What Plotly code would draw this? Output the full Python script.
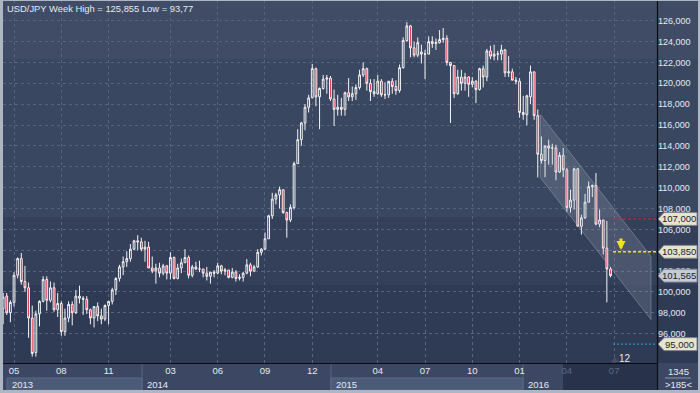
import pandas as pd
import plotly.graph_objects as go

# ---------------- data (weekly USD/JPY) ----------------
first_week = "2013-04-15"
open_ = [98.4, 99.6, 98.0, 99.0, 101.6, 103.2, 101.0, 100.4, 97.5, 94.2, 97.9, 99.1, 101.2,
         99.2, 100.4, 98.3, 98.9, 96.2, 97.5, 98.8, 98.0, 99.6, 99.4, 99.3, 98.3, 97.5, 98.6,
         97.7, 97.4, 98.7, 99.1, 100.2, 101.3, 102.4, 102.9, 103.2, 104.1, 104.9,
         104.8, 104.1, 104.3, 102.3, 102.0, 102.3, 101.8, 102.5, 101.8, 103.3, 101.3, 102.3,
         102.8, 103.3, 101.6, 102.4, 102.2, 102.2, 101.8, 101.5, 101.9, 101.8, 102.5, 102.0,
         102.1, 101.4, 101.9, 101.3, 101.4, 101.8, 102.6, 102.0, 102.4, 103.8, 104.1, 105.1,
         107.3, 108.9, 109.3, 109.8, 107.6, 106.9, 108.1, 112.3, 114.6, 116.2, 117.7, 118.6,
         121.4, 118.7, 119.5, 120.4,
         120.5, 118.5, 117.5, 117.7, 117.5, 119.1, 118.7, 119.0, 119.6, 120.8, 121.4, 120.0,
         119.2, 119.0, 120.2, 118.9, 118.9, 120.2, 119.7, 119.3, 121.5, 124.1, 125.5, 123.4,
         122.7, 123.0, 122.8, 122.8, 124.0, 123.8, 123.9, 124.2, 124.3, 122.0, 121.7, 119.0,
         120.6, 120.0, 120.6, 119.9, 120.2, 119.4, 121.4, 120.6, 123.1, 122.6, 122.8, 122.8,
         123.2, 121.0, 121.1, 120.3,
         120.2, 117.2, 117.0, 118.7, 121.1, 116.9, 113.2, 112.6, 114.0, 113.8, 113.8, 111.5,
         113.1, 111.7, 108.1, 108.8, 111.8, 106.3, 107.1, 108.6, 110.1, 110.2, 106.5, 106.9,
         104.2, 102.2]
high = [99.9, 99.9, 99.2, 101.9, 103.3, 103.74, 102.5, 100.9, 98.7, 98.2, 99.2, 101.5, 101.5,
        101.0, 100.9, 99.9, 99.1, 98.4, 99.1, 99.1, 100.2, 100.6, 99.6, 99.6, 98.4, 98.6, 99.0,
        98.4, 98.8, 99.1, 100.4, 101.4, 102.6, 103.4, 103.9, 104.6, 105.0, 105.44,
        105.2, 104.9, 104.8, 103.4, 102.7, 102.8, 102.7, 102.6, 103.8, 103.4, 102.7, 103.2,
        104.1, 103.5, 102.6, 102.9, 103.0, 102.2, 102.4, 101.9, 102.1, 102.8, 102.6, 102.3,
        102.1, 102.3, 102.1, 101.7, 101.9, 103.15, 102.8, 102.6, 104.1, 104.2, 105.7, 107.4,
        109.5, 109.5, 110.1, 109.8, 107.7, 108.4, 112.5, 115.6, 116.3, 118.0, 118.9, 121.85,
        121.5, 119.6, 120.8, 120.8,
        120.7, 119.4, 118.9, 118.6, 119.2, 120.5, 119.7, 119.9, 121.3, 122.0, 121.5, 120.4,
        120.4, 120.8, 120.4, 120.1, 120.0, 120.5, 120.3, 121.8, 124.4, 125.86, 125.6, 124.0,
        124.4, 123.7, 123.2, 124.5, 124.5, 124.3, 125.1, 125.3, 124.6, 122.0, 121.7, 121.3,
        121.3, 121.0, 120.7, 120.6, 120.3, 121.5, 121.7, 123.3, 123.6, 123.7, 123.1, 123.7,
        123.3, 122.6, 121.4, 120.6,
        120.5, 118.8, 118.9, 121.7, 121.1, 117.5, 114.9, 114.0, 114.6, 114.2, 114.1, 113.4,
        113.8, 111.9, 109.8, 111.9, 111.9, 107.4, 109.4, 110.6, 110.3, 111.4, 107.9, 106.9,
        106.8, 102.4]
low = [96.9, 97.8, 97.1, 98.6, 101.3, 100.7, 100.0, 95.6, 93.8, 93.8, 96.7, 99.0, 98.2,
       99.0, 98.1, 97.6, 95.8, 95.8, 97.1, 96.8, 97.9, 98.9, 97.8, 97.9, 96.9, 96.6, 97.2,
       96.9, 97.2, 96.9, 98.8, 99.7, 101.0, 101.6, 102.4, 102.9, 104.0, 104.0,
       103.9, 102.9, 102.3, 101.8, 100.8, 101.4, 101.6, 101.2, 101.2, 101.2, 101.2, 101.8,
       102.8, 101.3, 101.4, 102.1, 101.9, 101.4, 101.1, 100.8, 101.4, 101.7, 101.7, 101.6,
       101.3, 101.3, 101.0, 101.1, 101.0, 101.7, 101.5, 101.9, 102.3, 103.5, 104.0, 105.1,
       107.0, 108.4, 108.0, 107.5, 105.2, 106.7, 107.9, 112.3, 114.0, 115.5, 117.2, 118.6,
       117.8, 115.6, 119.4, 119.0,
       118.3, 115.9, 116.9, 116.9, 116.9, 118.3, 118.3, 118.4, 119.4, 120.6, 119.3, 118.3,
       118.7, 118.9, 118.7, 118.5, 118.6, 119.0, 118.9, 119.1, 121.4, 124.0, 122.5, 122.5,
       122.5, 121.9, 120.4, 122.8, 123.4, 123.2, 123.8, 123.9, 121.7, 116.2, 118.6, 118.9,
       119.3, 119.3, 118.7, 119.6, 118.1, 119.3, 119.6, 120.2, 122.3, 122.2, 122.2, 122.2,
       120.6, 120.6, 120.3, 119.9,
       116.7, 116.5, 115.97, 118.0, 116.5, 110.98, 112.3, 111.0, 112.2, 112.2, 110.7, 111.4,
       111.0, 107.7, 107.6, 107.9, 106.3, 105.5, 107.0, 108.6, 109.1, 106.4, 106.2, 103.6,
       99.0, 101.4]
close = [99.5, 98.0, 99.0, 101.6, 103.2, 101.0, 100.4, 97.5, 94.1, 97.9, 99.1, 101.2, 99.2,
         100.4, 98.3, 98.9, 96.2, 97.5, 98.8, 98.0, 99.6, 99.4, 99.3, 98.3, 97.5, 98.6, 97.7,
         97.4, 98.7, 99.1, 100.2, 101.3, 102.4, 102.9, 103.2, 104.1, 104.9, 104.8,
         104.1, 104.3, 102.3, 102.0, 102.3, 101.8, 102.5, 101.8, 103.3, 101.3, 102.3, 102.8,
         103.3, 101.6, 102.4, 102.2, 102.2, 101.8, 101.5, 101.9, 101.8, 102.5, 102.0, 102.1,
         101.4, 101.9, 101.3, 101.4, 101.8, 102.6, 102.0, 102.4, 103.8, 104.1, 105.1, 107.3,
         108.9, 109.3, 109.8, 107.6, 106.9, 108.1, 112.3, 114.6, 116.2, 117.7, 118.6, 121.4,
         118.7, 119.5, 120.4, 120.5,
         118.5, 117.5, 117.7, 117.5, 119.1, 118.7, 119.0, 119.6, 120.8, 121.4, 120.0, 119.2,
         119.0, 120.2, 118.9, 118.9, 120.2, 119.7, 119.3, 121.5, 124.1, 125.5, 123.4, 122.7,
         123.9, 122.8, 122.8, 124.0, 123.8, 123.9, 124.2, 124.3, 122.0, 121.7, 119.0, 120.6,
         120.0, 120.6, 119.9, 120.2, 119.4, 121.4, 120.6, 123.1, 122.6, 122.8, 122.8, 123.2,
         121.0, 121.1, 120.3, 120.2,
         117.2, 117.0, 118.8, 121.1, 116.9, 113.2, 112.6, 114.0, 113.8, 113.8, 111.5, 113.1,
         111.7, 108.1, 108.8, 111.8, 106.3, 107.1, 108.6, 110.1, 110.2, 106.5, 106.9, 104.2,
         102.2, 101.565]
dates = pd.date_range(first_week, periods=len(open_), freq="7D")

month_ticks = ["2013-05-06", "2013-08-05", "2013-11-04", "2014-03-03", "2014-06-02",
               "2014-09-01", "2014-12-01", "2015-04-06", "2015-07-06", "2015-10-05",
               "2016-01-04", "2016-04-04", "2016-07-04"]
month_labels = ["05", "08", "11", "03", "06", "09", "12", "04", "07", "10", "01", "04", "07"]
price_ticks = list(range(96, 127, 2))
hidden_price_ticks = [104]          # label covered by the 103,850 marker in the source
price_labels = ["" if v in hidden_price_ticks else f"{v},000" for v in price_ticks]
year_labels = ["2013", "2014", "2015", "2016"]

# drawn trend channel
channel_dates = ["2016-02-13", "2016-09-13"]
channel_upper = [117.0, 103.4]
channel_lower = [110.95, 97.35]

# marked levels
level_red = 107.0
level_yellow = 103.85
last_price = 101.565
level_blue = 95.0
level_labels = ["107,000", "103,850", "101,565", "95,000"]

title_text = "USD/JPY Week High = 125,855 Low = 93,77"
footer_top, footer_bottom = "1345", ">185<"
bar_count_label = "12"

# ---------------- geometry helpers ----------------
W, H = 700, 393
ML, MR, MT, MB = 3, 43, 0, 30
PW, PH = W - ML - MR, H - MT - MB
base = pd.Timestamp("2013-04-29")
step_px = 3.637
x0_px = 10.4


def px(x):
    return (x - ML) / PW


def py(y):
    return (MT + PH - y) / PH


def wdate(w):
    return base + pd.Timedelta(days=7 * w)


x_range = [wdate((ML - x0_px) / step_px), wdate((ML + PW - x0_px) / step_px)]
y_range = [126 - (PH - 20.7) / 10.433, 126 + 20.7 / 10.433]

FONT = "Liberation Sans, Arial, sans-serif"
TXT = "#e4eaf3"

fig = go.Figure()

# channel
fig.add_trace(go.Scatter(
    x=[channel_dates[0], channel_dates[1], channel_dates[1], channel_dates[0], channel_dates[0]],
    y=[channel_upper[0], channel_upper[1], channel_lower[1], channel_lower[0], channel_upper[0]],
    mode="lines", fill="toself", fillcolor="rgba(185,192,205,0.18)",
    line=dict(color="rgba(190,196,210,0.35)", width=1), hoverinfo="skip", showlegend=False))

fig.add_trace(go.Candlestick(
    x=dates, open=open_, high=high, low=low, close=close,
    increasing=dict(line=dict(color="#f4f4f4", width=1), fillcolor="rgba(0,0,0,0)"),
    decreasing=dict(line=dict(color="#f4f4f4", width=1), fillcolor="#e3122c"),
    whiskerwidth=0, hoverinfo="skip", showlegend=False))

shapes = []
# background bands (full width)
bands = [(0, 59, "#404c65"), (59, 217, "#3a4761"), (217, 285, "#343f59"), (285, 363, "#2f3b55")]
for y0, y1, c in bands:
    shapes.append(dict(type="rect", xref="paper", yref="paper", x0=px(0), x1=px(W),
                       y0=py(y1), y1=py(y0), fillcolor=c, line_width=0, layer="below"))
# bottom axis panel
shapes.append(dict(type="rect", xref="paper", yref="paper", x0=px(0), x1=px(W), y0=py(H), y1=py(363),
                   fillcolor="#3c4863", line_width=0, layer="below"))
for xa, xb, c in [(7, 142, "#4b5a77"), (331, 523, "#4b5a77")]:
    shapes.append(dict(type="rect", xref="paper", yref="paper", x0=px(xa), x1=px(xb), y0=py(390), y1=py(378),
                       fillcolor=c, line=dict(color="#5a6986", width=1), layer="below"))
shapes.append(dict(type="rect", xref="paper", yref="paper", x0=px(563), x1=px(657), y0=py(390), y1=py(363),
                   fillcolor="#28334b", line_width=0, layer="below"))
for xv in [142, 331, 523]:
    shapes.append(dict(type="line", xref="paper", yref="paper", x0=px(xv), x1=px(xv), y0=py(390), y1=py(363),
                       line=dict(color="#56657f", width=1), layer="below"))
# bottom right box separator
shapes.append(dict(type="line", xref="paper", yref="paper", x0=px(665), x1=px(691), y0=py(378), y1=py(378),
                   line=dict(color="#8a96aa", width=1), layer="above"))

# level lines
for lv, col, dash, wd in [(level_red, "#d42a2a", "3px,2px", 1), (level_yellow, "#f2e21c", "3px,2px", 1.6),
                          (level_blue, "#2aa6d6", "2px,2px", 1)]:
    shapes.append(dict(type="line", xref="paper", yref="y", x0=px(613), x1=1, y0=lv, y1=lv,
                       line=dict(color=col, width=wd, dash=dash), layer="above"))

# label boxes on right axis
half = 0.62
for lv, fc in [(level_red, "#e7e4cc"), (level_yellow, "#e7e4cc"), (last_price, "#c6cbd4"), (level_blue, "#e7e4cc")]:
    path = (f"M {px(658)},{lv} L {px(664)},{lv + half} L {px(697)},{lv + half} "
            f"L {px(697)},{lv - half} L {px(664)},{lv - half} Z")
    shapes.append(dict(type="path", xref="paper", yref="y", path=path, fillcolor=fc,
                       line=dict(color="#7c8496", width=1), layer="above"))

# small triangle marker near bar counter
shapes.append(dict(type="path", xref="paper", yref="paper",
                   path=f"M {px(611)},{py(362)} L {px(615)},{py(357)} L {px(619)},{py(362)} Z",
                   fillcolor="#4a4f63", line_width=0, layer="above"))

# frame lines
shapes.append(dict(type="line", xref="paper", yref="paper", x0=px(3), x1=px(657), y0=py(363.5), y1=py(363.5),
                   line=dict(color="#0a0d14", width=1.2), layer="above"))
shapes.append(dict(type="line", xref="paper", yref="paper", x0=px(657.5), x1=px(657.5), y0=py(390), y1=py(0),
                   line=dict(color="#0a0d14", width=1.2), layer="above"))
# outer light border
for xa, xb, ya, yb in [(0, 3, 0, H), (0, W, 390, H), (698, W, 0, H), (0, W, 0, 1)]:
    shapes.append(dict(type="rect", xref="paper", yref="paper", x0=px(xa), x1=px(xb), y0=py(yb), y1=py(ya),
                       fillcolor="#aeb6c4", line_width=0, layer="above"))

annotations = []
annotations.append(dict(text=title_text, xref="paper", yref="paper", x=px(5), y=py(8),
                        xanchor="left", yanchor="middle", showarrow=False,
                        font=dict(family=FONT, size=9.4, color=TXT)))
for xa, t in zip([10, 145, 334, 526], year_labels):
    annotations.append(dict(text=t, xref="paper", yref="paper", x=px(xa), y=py(384),
                            xanchor="left", yanchor="middle", showarrow=False,
                            font=dict(family=FONT, size=9.5, color=TXT)))
for lv, t in zip([level_red, level_yellow, last_price, level_blue], level_labels):
    annotations.append(dict(text=t, xref="paper", yref="y", x=px(679), y=lv,
                            xanchor="center", yanchor="middle", showarrow=False,
                            font=dict(family=FONT, size=9.5, color="#1c2230")))
annotations.append(dict(text=footer_top, xref="paper", yref="paper", x=px(678), y=py(371),
                        xanchor="center", yanchor="middle", showarrow=False,
                        font=dict(family=FONT, size=9.5, color=TXT)))
annotations.append(dict(text=footer_bottom, xref="paper", yref="paper", x=px(678), y=py(384),
                        xanchor="center", yanchor="middle", showarrow=False,
                        font=dict(family=FONT, size=9.5, color=TXT)))
annotations.append(dict(text=bar_count_label, xref="paper", yref="paper", x=px(617), y=py(358),
                        xanchor="left", yanchor="middle", showarrow=False,
                        font=dict(family=FONT, size=10, color=TXT)))
# yellow down arrow
annotations.append(dict(text="", xref="paper", yref="paper", x=px(621), y=py(250),
                        ax=0, ay=-13, showarrow=True, arrowhead=2, arrowsize=0.6,
                        arrowwidth=3, arrowcolor="#f2e21c"))

tick_text = [f'<span style="color:#5c6a86">{t}</span>' if i >= len(month_labels) - 2 else t
             for i, t in enumerate(month_labels)]

fig.update_layout(
    width=W, height=H, margin=dict(l=ML, r=MR, t=MT, b=MB, autoexpand=False),
    paper_bgcolor="#2f3b55", plot_bgcolor="rgba(0,0,0,0)",
    shapes=shapes, annotations=annotations, showlegend=False,
    xaxis=dict(type="date", range=x_range, rangeslider=dict(visible=False),
               tickvals=month_ticks, ticktext=tick_text, ticks="", showline=False,
               showgrid=True, gridcolor="#56637d", griddash="3px,3px", gridwidth=1,
               zeroline=False, tickfont=dict(family=FONT, size=9.5, color=TXT), fixedrange=True),
    yaxis=dict(side="right", range=y_range, tickvals=price_ticks, ticktext=price_labels, ticks="",
               showgrid=True, gridcolor="#56637d", griddash="3px,3px", gridwidth=1, zeroline=False,
               showline=False, tickfont=dict(family=FONT, size=9, color=TXT), fixedrange=True),
)

fig.write_html("out.html", config={"displayModeBar": False},
               post_script="document.body.style.margin='0px';document.body.style.overflow='hidden';")
